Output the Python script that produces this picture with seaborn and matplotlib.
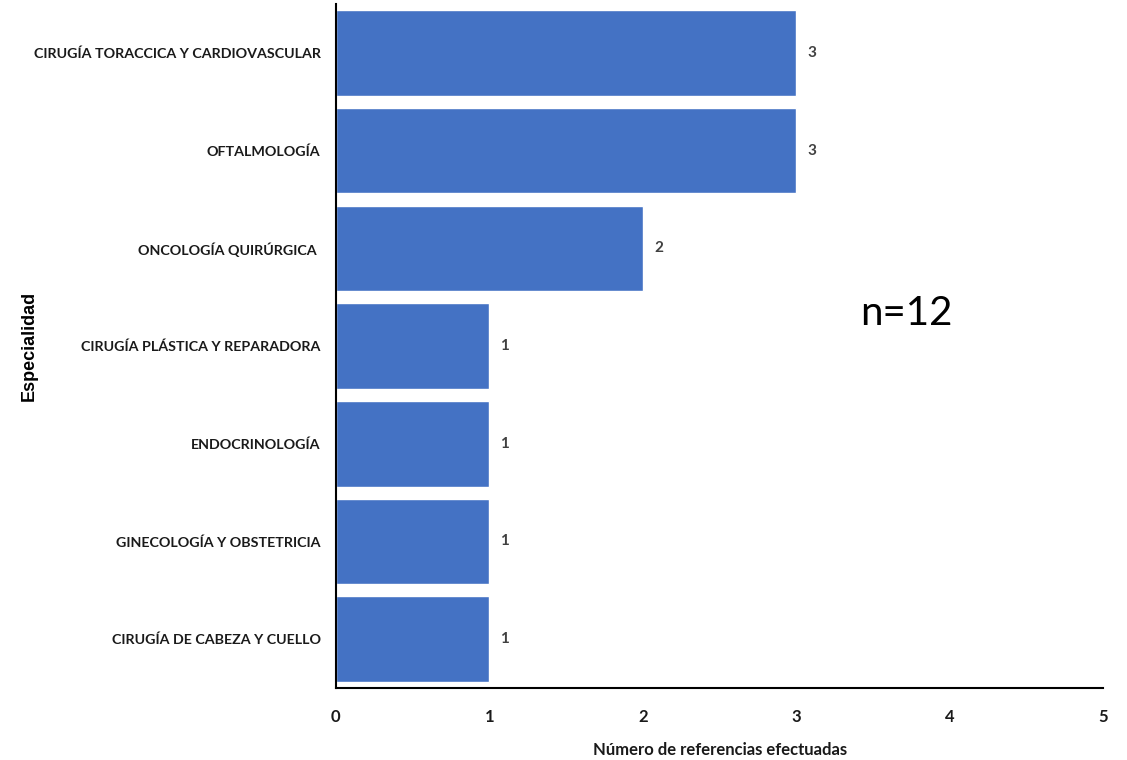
import matplotlib
matplotlib.use("Agg")
import matplotlib.pyplot as plt
import seaborn as sns
import pandas as pd

especialidades = [
    "CIRUGÍA TORACCICA Y CARDIOVASCULAR",
    "OFTALMOLOGÍA",
    "ONCOLOGÍA QUIRÚRGICA ",
    "CIRUGÍA PLÁSTICA Y REPARADORA",
    "ENDOCRINOLOGÍA",
    "GINECOLOGÍA Y OBSTETRICIA",
    "CIRUGÍA DE CABEZA Y CUELLO",
]
referencias = [3, 3, 2, 1, 1, 1, 1]
x_ticks = [0, 1, 2, 3, 4, 5]

df = pd.DataFrame({"especialidad": especialidades, "n": referencias})

sns.set_style("white")
plt.rcParams["font.family"] = ["Lato", "DejaVu Sans"]

fig = plt.figure(figsize=(11.27, 7.6), dpi=100)
ax = fig.add_axes([0.298, 0.0947, 0.681, 0.9])

sns.barplot(data=df, y="especialidad", x="n", color="#4472C4", saturation=1,
            width=0.876, ax=ax)

for c in ax.containers:
    ax.bar_label(c, padding=8, fontsize=11, fontweight="bold", color="#404040")

ax.set_xlim(0, 5)
ax.set_ylim(6.5, -0.5)
ax.set_xticks(x_ticks)
ax.tick_params(axis="both", length=0)
ax.tick_params(axis="x", pad=15, labelsize=12)
ax.tick_params(axis="y", pad=11, labelsize=10.3)
for lab in ax.get_xticklabels() + ax.get_yticklabels():
    lab.set_fontweight("bold")
    lab.set_color("#1a1a1a")

for s in ["top", "right"]:
    ax.spines[s].set_visible(False)
for s in ["left", "bottom"]:
    ax.spines[s].set_color("black")
    ax.spines[s].set_linewidth(1.5)

ax.set_xlabel("Número de referencias efectuadas", fontsize=12, fontweight="bold",
              color="#1a1a1a", labelpad=12)
ax.set_ylabel("Especialidad", fontsize=13, fontweight="bold", color="black",
              family=["Liberation Sans", "DejaVu Sans"])
ax.yaxis.set_label_coords(-0.389, 0.5)

ax.text(3.72, 2.67, "n=12", fontsize=29, color="black",
        ha="center", va="center")

fig.savefig("out.png", dpi=100)
